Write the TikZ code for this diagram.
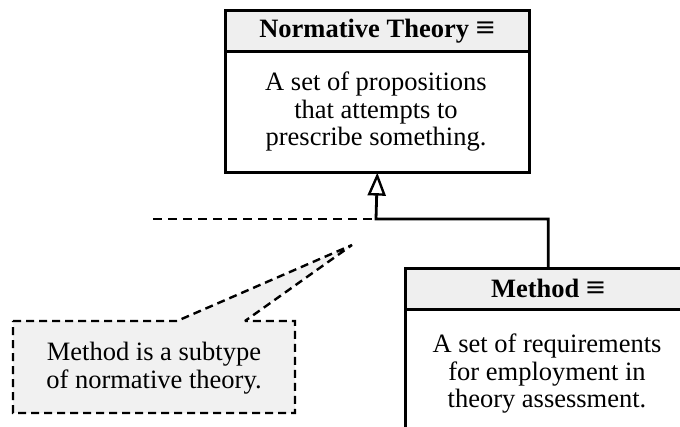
\documentclass[tikz,border=0pt]{standalone}
\usepackage{fontspec}
\setmainfont{Liberation Serif}
\usetikzlibrary{arrows.meta}
\definecolor{headgrey}{HTML}{EFEFEF}
\definecolor{notegrey}{HTML}{F1F1F1}
\newcommand{\equivmark}{\scalebox{1.3}[1.1]{\textbf{≡}}}
\begin{document}
\begin{tikzpicture}[x=1pt,y=-1pt,
  every node/.style={font=\fontsize{26.5}{27.5}\selectfont},
  classframe/.style={draw=black, line width=2.6pt, fill=white, inner sep=0pt, anchor=north west},
  classhead/.style={draw=black, line width=2.6pt, fill=headgrey, inner sep=0pt, anchor=north west, minimum height=41pt},
  bodytext/.style={align=center, inner sep=0pt},
  gen/.style={draw=black, line width=2.8pt, -{Triangle[open, length=23pt, width=18pt, line width=2.4pt]}},
  guide/.style={draw=black, line width=2.4pt, dash pattern=on 9pt off 6pt},
  notebox/.style={draw=black, line width=2.4pt, dash pattern=on 8pt off 5pt, fill=notegrey, line join=miter, miter limit=2}
]
\useasboundingbox (0,0) rectangle (680,427);
\clip (0,0) rectangle (680,427);

% Normative Theory class box
\node[classframe, minimum width=304pt, minimum height=162pt] (nt) at (224,9) {};
\node[classhead, minimum width=304pt] (nth) at (nt.north west) {\textbf{Normative Theory} \equivmark};
\node[bodytext] (ntb) at (376,112) {A set of propositions\\that attempts to\\prescribe something.};

% Method class box (runs past the page edge)
\node[classframe, minimum width=286pt, minimum height=200pt] (m) at (404,267) {};
\node[classhead, minimum width=286pt] (mh) at (m.north west) {\textbf{Method} \equivmark};
\node[bodytext] (mb) at (547,374) {A set of requirements\\for employment in\\theory assessment.};

% generalisation connector
\coordinate (j) at (376,219);
\draw[gen, shorten >=-1pt] (m.north) |- (j) -- (nt.south);

% dashed guide line
\coordinate (gl) at (153,219);
\draw[guide] (gl) -- (j);

% note with pointer
\coordinate (tip) at (352,245);
\coordinate (nw) at (13,321);
\coordinate (se) at (295,413);
\coordinate (pa) at (177,321);
\coordinate (pb) at (245,321);
\path[notebox] (nw) -- (pa) -- (tip) -- (pb) -- (se |- nw) -- (se) -- (nw |- se) -- cycle;
\node[bodytext] (note) at (154,368) {Method is a subtype\\of normative theory.};
\end{tikzpicture}
\end{document}
